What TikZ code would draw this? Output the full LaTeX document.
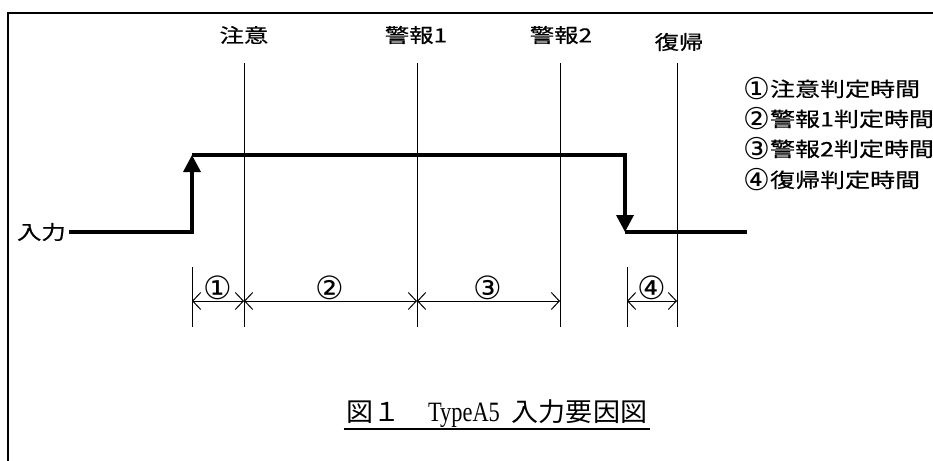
\documentclass[tikz,border=0pt]{standalone}
\usepackage{fontspec}
\usepackage{tikz}
\usetikzlibrary{arrows.meta, positioning, calc}
\newfontfamily\jfont{Noto Sans CJK JP}[FakeStretch=1.25, FakeBold=0.4]
\newfontfamily\numfont{DejaVu Sans}
\newfontfamily\capfont{Noto Sans CJK JP}[FakeStretch=1.04]
\newfontfamily\capserif{Liberation Serif}[FakeStretch=0.8]
\newcommand\legnum[1]{\raisebox{-3.5pt}{\numfont\fontsize{30pt}{30pt}\selectfont #1}}

\begin{document}
\begin{tikzpicture}[x=1pt, y=-1pt,
    frameline/.style={line width=2pt},
    guide/.style={line width=1pt},
    signal/.style={line width=3.5pt},
    sigtip/.style={-{Triangle[length=17pt,width=17pt]}},
    dimarr/.style={line width=1pt, {Straight Barb[length=8pt,width=17pt]}-{Straight Barb[length=8pt,width=17pt]}},
    lbl/.style={font=\jfont\fontsize{19.5pt}{20pt}\selectfont, inner sep=0pt},
    legend/.style={font=\jfont\fontsize{20pt}{20pt}\selectfont, inner sep=0pt, anchor=west},
    circnum/.style={font=\numfont\fontsize{32pt}{32pt}\selectfont, inner sep=0pt}]
                        \useasboundingbox (0,0) rectangle (933,460);
                        % frame
                        \coordinate (fTR) at (945,13);
                        \coordinate (fTL) at (8,13);
                        \coordinate (fBL) at (8,470);
                        \draw[frameline] (fTR) -- (fTL) -- (fBL);
                        % top labels
                        \node[lbl] (chui) at (244,35) {注意};
                        \node[lbl] (kei1) at (416,35) {警報1};
                        \node[lbl] (kei2) at (561,35) {警報2};
                        \node[lbl] (fukki) at (679,42) {復帰};
                        % guide lines
                        \coordinate (chuiT) at (244,63);
                        \coordinate (chuiB) at (244,327);
                        \coordinate (kei1T) at (417,63);
                        \coordinate (kei1B) at (417,327);
                        \coordinate (kei2T) at (560,63);
                        \coordinate (kei2B) at (560,327);
                        \coordinate (fukkiT) at (677,63);
                        \coordinate (fukkiB) at (677,327);
                        \coordinate (ext1T) at (192,267);
                        \coordinate (ext1B) at (192,327);
                        \coordinate (ext4T) at (627,267);
                        \coordinate (ext4B) at (627,327);
                        \draw[guide]
                        (chuiT) -- (chuiB)
                        (kei1T) -- (kei1B)
                        (kei2T) -- (kei2B)
                        (fukkiT) -- (fukkiB)
                        (ext1T) -- (ext1B)
                        (ext4T) -- (ext4B);
                        % input signal
                        \node[lbl, anchor=east, inner xsep=3pt] (nyu) at (69,232) {入力};
                        \coordinate (up0) at (192,232);
                        \coordinate (up1) at (192,155);
                        \coordinate (dn0) at (625,155);
                        \coordinate (dn1) at (625,232);
                        \coordinate (sigE) at (747,232);
                        \draw[signal, sigtip] (nyu.east) -- (up0) -- (up1);
                        \draw[signal, sigtip] (up1) -- (dn0) -- (dn1);
                        \draw[signal] (dn1) -- (sigE);
                        % judgement times
                        \coordinate (m0) at (192,301);
                        \coordinate (m1) at (244,301);
                        \coordinate (m2) at (417,301);
                        \coordinate (m3) at (560,301);
                        \coordinate (m4) at (627,301);
                        \coordinate (m5) at (677,301);
                        \draw
                        (m0) edge[dimarr] (m1)
                        (m1) edge[dimarr] (m2)
                        (m2) edge[dimarr] (m3)
                        (m4) edge[dimarr] (m5);
                        \node[circnum] (n1) at (218,288) {①};
                        \node[circnum] (n2) at (330,288) {②};
                        \node[circnum] (n3) at (488,288) {③};
                        \node[circnum] (n4) at (652,288) {④};
                        % legend
                        \node[legend] (leg1) at (743,89) {\legnum{①}注意判定時間};
                        \node[legend] (leg2) at (743,119) {\legnum{②}警報1判定時間};
                        \node[legend] (leg3) at (743,149) {\legnum{③}警報2判定時間};
                        \node[legend] (leg4) at (743,180) {\legnum{④}復帰判定時間};
                        % caption
                        \node[font=\capfont\fontsize{26pt}{26pt}\selectfont, inner xsep=3pt, anchor=base] (cap) at (497,421) {図１　{\capserif\fontsize{28pt}{28pt}\selectfont TypeA5}\hspace{12pt}入力要因図};
                        \draw[line width=2pt] ([yshift=-8pt]cap.base west) -- ([yshift=-8pt]cap.base east);
                    \end{tikzpicture}
\end{document}
